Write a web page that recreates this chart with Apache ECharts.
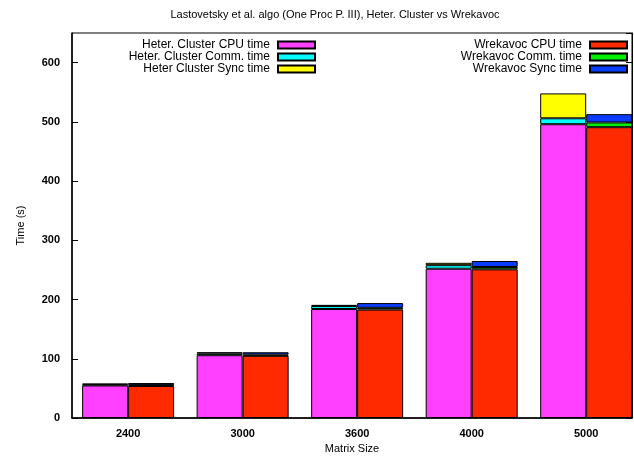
<!DOCTYPE html>
<html><head><meta charset="utf-8">
<script src="https://cdn.jsdelivr.net/npm/echarts@6/dist/echarts.min.js"></script>
<style>html,body{margin:0;padding:0;background:#fff}#c{width:634px;height:460px}</style>
</head><body><div id="c"></div>
<script>
const categories = ['2400', '3000', '3600', '4000', '5000'];
const heterCPU   = [55, 106, 184, 252, 496];
const heterComm  = [1.5, 3, 5, 6, 10];
const heterSync  = [1.5, 2, 2, 4, 42];
const wrekCPU    = [54, 105, 183, 251, 491];
const wrekComm   = [1.5, 2, 3, 4, 8];
const wrekSync   = [3.5, 4, 8, 10, 14];
const yTicks = [0, 100, 200, 300, 400, 500, 600];

const FONT = 'Liberation Sans';
// value first, category index second, so the stack runs on the value dimension
function pts(arr){ return arr.map((v,i)=>[v, i]); }
function ser(name, stack, data, color){
  return { name, type:'bar', stack, data: pts(data), encode:{ x:1, y:0 },
    barWidth:46, barGap:'0%',
    itemStyle:{ color, borderColor:'#000', borderWidth:1 }, animation:false };
}
const legendText = { fontFamily:FONT, fontSize:12, lineHeight:12, color:'#000', padding:[0,3,0,0] };
const chart = echarts.init(document.getElementById('c'), null, {renderer:'canvas'});
chart.setOption({
  animation:false,
  textStyle:{ fontFamily: FONT },
  title:{ text:'Lastovetsky et al. algo (One Proc P. III), Heter. Cluster vs Wrekavoc',
    left:330, textAlign:'center', top:4,
    textStyle:{ fontFamily:FONT, fontSize:11, fontWeight:'normal', color:'#000' } },
  legend:[
    { data:['Heter. Cluster CPU time','Heter. Cluster Comm. time','Heter Cluster Sync time'],
      orient:'vertical', align:'right', right:318, top:39, padding:0, itemWidth:37, itemHeight:7, itemGap:0, icon:'rect',
      textStyle:legendText },
    { data:['Wrekavoc CPU time','Wrekavoc Comm. time','Wrekavoc Sync time'],
      orient:'vertical', align:'right', right:6, top:39, padding:0, itemWidth:37, itemHeight:7, itemGap:0, icon:'rect',
      textStyle:legendText }
  ],
  grid:{ left:72, right:2, top:33, bottom:42, show:true, borderColor:'#000', borderWidth:1 },
  xAxis:{ type:'value', min:-0.49, max:4.4, name:'Matrix Size', nameLocation:'middle', nameGap:24,
    nameTextStyle:{ fontFamily:FONT, fontSize:11, color:'#000' },
    splitLine:{show:false}, axisTick:{show:false},
    axisLine:{ onZero:false, lineStyle:{ color:'#000', width:1.5 } },
    axisLabel:{ showMinLabel:false, showMaxLabel:false, fontFamily:FONT, fontSize:11, color:'#000',
      fontWeight:'bold', margin:10,
      formatter: v => (Math.abs(v-Math.round(v))<1e-6 && categories[Math.round(v)]!==undefined) ? categories[Math.round(v)] : '' } },
  yAxis:[{ type:'value', min:0, max:650, interval:100, name:'Time (s)', nameLocation:'middle', nameGap:46,
    nameTextStyle:{ fontFamily:FONT, fontSize:11, color:'#000' },
    splitLine:{show:false},
    axisLine:{ show:true, onZero:false, lineStyle:{ color:'#000', width:1.5 } },
    axisTick:{ show:true, inside:true, length:6, lineStyle:{color:'#000'} },
    axisLabel:{ showMaxLabel:false, fontFamily:FONT, fontSize:11, color:'#000', fontWeight:'bold', margin:12,
      formatter: v => yTicks.indexOf(v) >= 0 ? String(v) : '' } },
    { type:'value', min:0, max:650, interval:100, position:'right', splitLine:{show:false},
      axisLine:{ show:true, onZero:false, lineStyle:{ color:'#000', width:1 } },
      axisTick:{ show:true, inside:true, length:6, lineStyle:{color:'#000'} }, axisLabel:{show:false} }
  ],
  series:[
    ser('Heter. Cluster CPU time','h',heterCPU,'#ff40ff'),
    ser('Heter. Cluster Comm. time','h',heterComm,'#00ffff'),
    ser('Heter Cluster Sync time','h',heterSync,'#ffff00'),
    ser('Wrekavoc CPU time','w',wrekCPU,'#ff2a00'),
    ser('Wrekavoc Comm. time','w',wrekComm,'#00ee00'),
    ser('Wrekavoc Sync time','w',wrekSync,'#0a3cff')
  ]
});
</script></body></html>
